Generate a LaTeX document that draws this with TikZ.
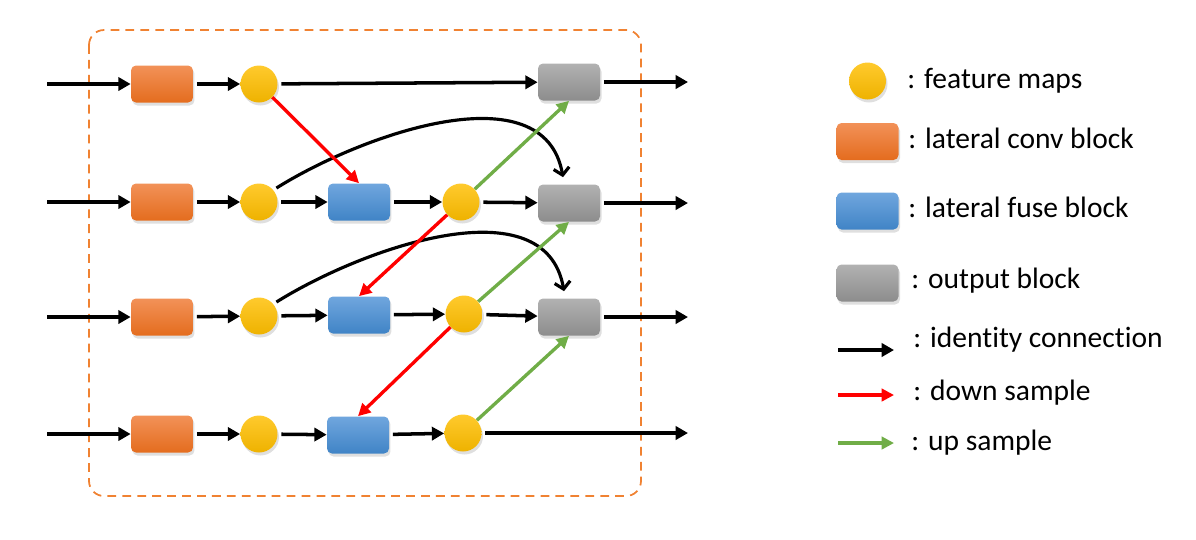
\documentclass[tikz,border=0pt]{standalone}
\usepackage{fontspec}
\setmainfont[Ligatures={NoCommon,NoRequired,NoContextual}]{Carlito}
\usetikzlibrary{arrows.meta,shadows}
\definecolor{convT}{RGB}{242,145,88}
\definecolor{convB}{RGB}{228,108,30}
\definecolor{fuseT}{RGB}{112,166,222}
\definecolor{fuseB}{RGB}{64,132,198}
\definecolor{outT}{RGB}{178,178,178}
\definecolor{outB}{RGB}{140,140,140}
\definecolor{fmT}{RGB}{255,202,45}
\definecolor{fmB}{RGB}{238,178,0}
\definecolor{boxc}{RGB}{240,130,50}
\definecolor{upg}{RGB}{112,173,71}
\definecolor{dnr}{RGB}{255,0,0}
\begin{document}
\begin{tikzpicture}[x=0.02cm,y=0.02cm,
  shad/.style={drop shadow={shadow xshift=0.03cm,shadow yshift=-0.06cm,opacity=0.25}},
  blk/.style={rectangle,rounded corners=0.1cm,minimum width=1.24cm,minimum height=0.74cm,inner sep=0pt,shad},
  conv/.style={blk,top color=convT,bottom color=convB},
  fuse/.style={blk,top color=fuseT,bottom color=fuseB},
  outb/.style={blk,top color=outT,bottom color=outB},
  fm/.style={circle,minimum size=0.74cm,inner sep=0pt,top color=fmT,bottom color=fmB,shad},
  idc/.style={line width=2pt,-{Triangle[length=7pt,width=7.5pt]}},
  skip/.style={line width=1.8pt,-{Straight Barb[length=4pt,width=9pt,line width=1.8pt]}},
  dn/.style={dnr,line width=1.9pt,-{Triangle[length=7pt,width=7pt]}},
  up/.style={upg,line width=1.9pt,-{Triangle[length=7pt,width=7pt]}},
  lab/.style={anchor=base west,inner sep=0pt,font=\fontsize{16.8pt}{20pt}\selectfont},
  gap/.style={shorten <=2pt}
]
\useasboundingbox (0,0) rectangle (1196,-539);
% dashed frame
\draw[boxc,line width=1pt,dash pattern=on 5pt off 3.5pt,rounded corners=0.3cm] (89,-30) rectangle (641,-496);

% row 1
\coordinate (i1) at (47,-84);
\node[conv] (c1) at (162,-84) {};
\node[fm] (a1) at (259,-84) {};
\node[outb] (g1) at (569,-82) {};
\coordinate (o1) at (688,-82);
% row 2
\coordinate (i2) at (47,-202);
\node[conv] (c2) at (162,-202) {};
\node[fm] (a2) at (259,-202) {};
\node[fuse] (f2) at (359,-202) {};
\node[fm] (b2) at (461,-202) {};
\node[outb] (g2) at (569,-203) {};
\coordinate (o2) at (688,-203);
% row 3
\coordinate (i3) at (47,-317);
\node[conv] (c3) at (162,-317) {};
\node[fm] (a3) at (259,-316) {};
\node[fuse] (f3) at (359,-315) {};
\node[fm] (b3) at (464,-314) {};
\node[outb] (g3) at (569,-317) {};
\coordinate (o3) at (688,-317);
% row 4
\coordinate (i4) at (47,-434);
\node[conv] (c4) at (162,-434) {};
\node[fm] (a4) at (259,-434) {};
\node[fuse] (f4) at (358,-435) {};
\node[fm] (b4) at (463,-433) {};
\coordinate (o4) at (688,-433);

% identity connections
\draw[idc] (i1) -- (c1);
\draw[idc,gap] (c1) -- (a1);
\draw[idc,gap] (a1) -- (g1);
\draw[idc,gap] (g1) -- (o1);

\draw[idc] (i2) -- (c2);
\draw[idc,gap] (c2) -- (a2);
\draw[idc,gap] (a2) -- (f2);
\draw[idc,gap] (f2) -- (b2);
\draw[idc,gap] (b2) -- (g2);
\draw[idc,gap] (g2) -- (o2);

\draw[idc] (i3) -- (c3);
\draw[idc,gap] (c3) -- (a3);
\draw[idc,gap] (a3) -- (f3);
\draw[idc,gap] (f3) -- (b3);
\draw[idc,gap] (b3) -- (g3);
\draw[idc,gap] (g3) -- (o3);

\draw[idc] (i4) -- (c4);
\draw[idc,gap] (c4) -- (a4);
\draw[idc,gap] (a4) -- (f4);
\draw[idc,gap] (f4) -- (b4);
\draw[idc,gap] (b4) -- (o4);

% skip curves
\draw[skip,shorten <=2pt] (a2.40) to[out=32,in=100,looseness=0.95] ([xshift=-0.12cm,yshift=0.14cm]g2.north);
\draw[skip,shorten <=2pt] (a3.40) to[out=32,in=100,looseness=0.95] ([xshift=-0.1cm,yshift=0.14cm]g3.north);

% down samples
\draw[dn] (a1) -- (f2.north);
\draw[dn] (b2) -- (f3.north);
\draw[dn] (b3) -- (f4.north);
% up samples
\draw[up] (b2) -- (g1.south);
\draw[up] (b3) -- (g2.south);
\draw[up] (b4) -- (g3.south);

% legend
\node[fm] (lfm) at (867.5,-81) {};
\node[conv] (lconv) at (867.5,-141.5) {};
\node[fuse] (lfuse) at (867.5,-211) {};
\node[outb] (lout) at (867.5,-283) {};
\coordinate (li1) at (838,-350); \coordinate (li2) at (894,-350);
\coordinate (ld1) at (838,-395); \coordinate (ld2) at (894,-395);
\coordinate (lu1) at (838,-443); \coordinate (lu2) at (894,-443);
\draw[idc] (li1) -- (li2);
\draw[dn] (ld1) -- (ld2);
\draw[up] (lu1) -- (lu2);

\node[lab] (t1) at (907,-88) {: feature maps};
\node[lab] (t2) at (908,-148) {: lateral conv block};
\node[lab] (t3) at (908,-217) {: lateral fuse block};
\node[lab] (t4) at (911,-288) {: output block};
\node[lab] (t5) at (913,-347) {: identity connection};
\node[lab] (t6) at (913,-400) {: down sample};
\node[lab] (t7) at (911,-450) {: up sample};
\end{tikzpicture}
\end{document}
